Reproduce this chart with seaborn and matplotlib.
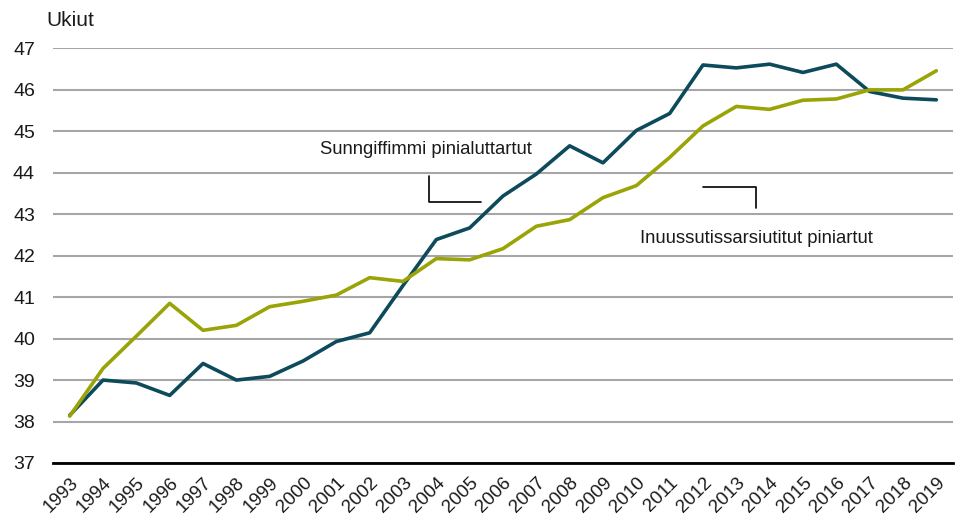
import matplotlib
matplotlib.use("Agg")
import matplotlib.pyplot as plt
import numpy as np
import pandas as pd
import seaborn as sns

years = list(range(1993, 2020))
sunngiffimmi = [38.15, 39.0, 38.93, 38.63, 39.40, 39.0, 39.09, 39.46, 39.93, 40.14,
                41.28, 42.39, 42.67, 43.44, 43.97, 44.65, 44.24, 45.02, 45.43, 46.60,
                46.53, 46.62, 46.42, 46.62, 45.96, 45.80, 45.76]
inuussutissarsiutitut = [38.13, 39.28, 40.06, 40.85, 40.20, 40.32, 40.77, 40.90, 41.05, 41.47,
                         41.38, 41.93, 41.90, 42.17, 42.71, 42.87, 43.40, 43.69, 44.37, 45.13,
                         45.60, 45.53, 45.75, 45.78, 46.0, 46.0, 46.46]
label_sunn = "Sunngiffimmi pinialuttartut"
label_inuu = "Inuussutissarsiutitut piniartut"
y_ticks = list(range(37, 48))

df = pd.DataFrame({
    "Ukiut": years * 2,
    "value": sunngiffimmi + inuussutissarsiutitut,
    "series": [label_sunn] * len(years) + [label_inuu] * len(years),
})
palette = {label_sunn: "#0d4a5b", label_inuu: "#9aa407"}

sns.set_theme(style="white")
plt.rcParams["font.family"] = ["Liberation Sans", "DejaVu Sans"]

fig = plt.figure(figsize=(9.59, 5.15), dpi=100)
ax = fig.add_axes([0.0553, 0.101, 0.9384, 0.805])

sns.lineplot(data=df, x="Ukiut", y="value", hue="series", palette=palette,
             linewidth=2.6, legend=False, ax=ax, zorder=3)

ax.set_xlim(years[0] - 0.5, years[-1] + 0.5)
ax.set_ylim(y_ticks[0], y_ticks[-1])
ax.set_yticks(y_ticks)
ax.set_xticks(years)
ax.set_xticklabels([str(y) for y in years], rotation=45, ha="right",
                   rotation_mode="anchor", fontsize=13.5)
ax.set_xticks(np.arange(years[0] - 0.5, years[-1] + 1), minor=True)
ax.tick_params(axis="x", which="major", length=0, pad=8)
ax.tick_params(axis="x", which="minor", direction="in", length=5, width=1.5, color="black")
ax.tick_params(axis="y", length=0, pad=13, labelsize=14)
for lab in ax.get_yticklabels() + ax.get_xticklabels():
    lab.set_color("#1a1a1a")

ax.grid(axis="y", color="#a6a6a6", linewidth=1.5, zorder=0)
ax.grid(axis="x", visible=False)
for side in ["top", "right", "left"]:
    ax.spines[side].set_visible(False)
ax.spines["bottom"].set_color("black")
ax.spines["bottom"].set_linewidth(2)
ax.set_xlabel("")
ax.set_ylabel("")

# labels with small bracket connectors
ax.text(2000.52, 44.56, label_sunn, fontsize=13.3, va="center", ha="left", color="#1a1a1a")
ax.plot([2003.77, 2003.77, 2005.35], [43.92, 43.30, 43.30], color="black", lw=1.2, zorder=4)
ax.text(2010.12, 42.42, label_inuu, fontsize=13.3, va="center", ha="left", color="#1a1a1a")
ax.plot([2012.0, 2013.59, 2013.59], [43.66, 43.66, 43.16], color="black", lw=1.2, zorder=4)

fig.text(0.048, 0.961, "Ukiut", fontsize=15, va="center", ha="left", color="#1a1a1a")

fig.savefig("out.png", dpi=100)
